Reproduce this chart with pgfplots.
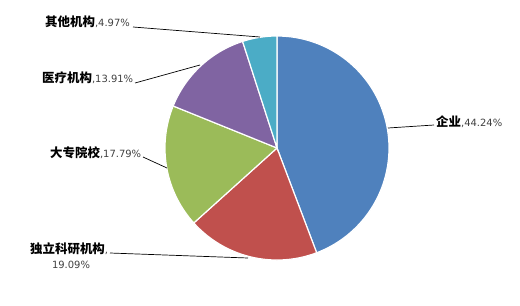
\documentclass[border=0pt]{standalone}
\usepackage{pgfplots}
\pgfplotsset{compat=1.18}
\usepackage{fontspec}
\setmainfont{DejaVu Sans}
\newfontfamily\cjk{Noto Sans CJK SC}
\definecolor{cA}{HTML}{4F81BD}
\definecolor{cB}{HTML}{C0504D}
\definecolor{cC}{HTML}{9BBB59}
\definecolor{cD}{HTML}{8064A2}
\definecolor{cE}{HTML}{4BACC6}
\definecolor{txtg}{HTML}{404040}
% shares in percent
\def\pA{44.24}\def\pB{19.09}\def\pC{17.79}\def\pD{13.91}\def\pE{4.97}
\pgfmathsetmacro\aA{90}
\pgfmathsetmacro\aB{\aA-3.6*\pA}
\pgfmathsetmacro\aC{\aB-3.6*\pB}
\pgfmathsetmacro\aD{\aC-3.6*\pC}
\pgfmathsetmacro\aE{\aD-3.6*\pD}
\pgfmathsetmacro\aF{\aE-3.6*\pE}
\newcommand\cn[1]{{\cjk\bfseries\fontsize{12.5}{14}\selectfont #1}}
\newcommand\nm[1]{{\fontsize{10}{12}\selectfont\color{txtg}#1}}
\newcommand\slice[3]{\addplot[fill=#1, draw=white, line width=1.2pt, domain=#3:#2, samples=80, variable=\t]
  ({277+112*cos(\t)}, {148-112*sin(\t)}) -- (axis cs:277,148) -- cycle;}
\begin{document}
\begin{tikzpicture}
\begin{axis}[scale only axis, width=520bp, height=305bp,
  xmin=0, xmax=520, ymin=0, ymax=305, y dir=reverse,
  hide axis, clip=false]
\path (axis cs:0,0) rectangle (axis cs:520,305);
\slice{cA}{\aA}{\aB}
\slice{cB}{\aB}{\aC}
\slice{cC}{\aC}{\aD}
\slice{cD}{\aD}{\aE}
\slice{cE}{\aE}{\aF}
% leader lines
\addplot[black, line width=0.7pt] coordinates {(388,128) (434,125)};
\addplot[black, line width=0.7pt] coordinates {(110,253) (248,258)};
\addplot[black, line width=0.7pt] coordinates {(143,157) (167,168)};
\addplot[black, line width=0.7pt] coordinates {(135,83) (200,65)};
\addplot[black, line width=0.7pt] coordinates {(133,27) (260,37)};
% labels
\node[anchor=west, inner sep=0pt] at (axis cs:436,122) {\cn{企业}\nm{,\pA\%}};
\node[anchor=west, inner sep=0pt] at (axis cs:30,249) {\cn{独立科研机构}\nm{,}};
\node[anchor=center, inner sep=0pt] at (axis cs:71,265) {\nm{\pB\%}};
\node[anchor=west, inner sep=0pt] at (axis cs:50,153) {\cn{大专院校}\nm{,\pC\%}};
\node[anchor=west, inner sep=0pt] at (axis cs:42,78) {\cn{医疗机构}\nm{,\pD\%}};
\node[anchor=west, inner sep=0pt] at (axis cs:45,22) {\cn{其他机构}\nm{,\pE\%}};
\end{axis}
\end{tikzpicture}
\end{document}
